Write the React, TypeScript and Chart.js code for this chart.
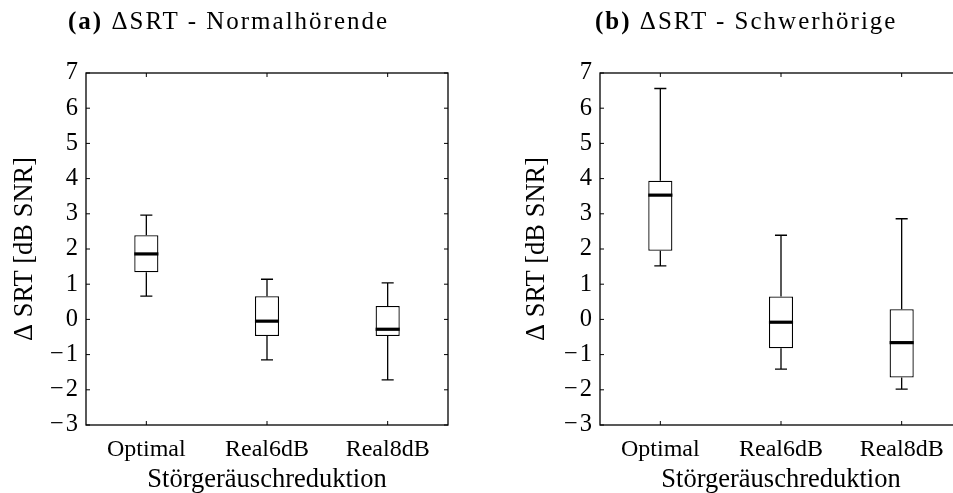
import React, { useEffect, useRef } from "react";
import { Chart, registerables } from "chart.js";

Chart.register(...registerables);

const categories = ["Optimal", "Real6dB", "Real8dB"];
const yTickValues = [-3, -2, -1, 0, 1, 2, 3, 4, 5, 6, 7];
const xAxisTitle = "Störgeräuschreduktion";
const yAxisTitle = "Δ SRT [dB SNR]";

// (a) Normalhörende
const nhWhiskerLow = [0.66, -1.15, -1.72];
const nhQ1 = [1.34, -0.47, -0.47];
const nhMedian = [1.86, -0.05, -0.28];
const nhQ3 = [2.39, 0.66, 0.38];
const nhWhiskerHigh = [2.96, 1.14, 1.04];

// (b) Schwerhörige
const shWhiskerLow = [1.52, -1.41, -1.98];
const shQ1 = [1.95, -0.82, -1.65];
const shMedian = [3.53, -0.08, -0.66];
const shQ3 = [3.94, 0.65, 0.29];
const shWhiskerHigh = [6.56, 2.39, 2.86];

const FONT = "'Liberation Serif', 'Times New Roman', serif";

type Stats = { low: number[]; q1: number[]; med: number[]; q3: number[]; high: number[] };

function makeBoxPlugin(stats: Stats) {
  return {
    id: "boxExtras",
    afterDatasetsDraw(chart: any) {
      const { ctx } = chart;
      const x = chart.scales.x;
      const y = chart.scales.y;
      const meta = chart.getDatasetMeta(0);
      ctx.save();
      ctx.strokeStyle = "#000";
      categories.forEach((_, i) => {
        const cx = x.getPixelForValue(i);
        const bw = meta.data[i] ? meta.data[i].width : 24;
        const half = bw / 2;
        const cap = bw / 4;
        const yLow = y.getPixelForValue(stats.low[i]);
        const yQ1 = y.getPixelForValue(stats.q1[i]);
        const yQ3 = y.getPixelForValue(stats.q3[i]);
        const yHigh = y.getPixelForValue(stats.high[i]);
        const yMed = y.getPixelForValue(stats.med[i]);
        ctx.lineWidth = 1.3;
        ctx.beginPath();
        ctx.moveTo(cx, yQ3);
        ctx.lineTo(cx, yHigh);
        ctx.moveTo(cx - cap, yHigh);
        ctx.lineTo(cx + cap, yHigh);
        ctx.moveTo(cx, yQ1);
        ctx.lineTo(cx, yLow);
        ctx.moveTo(cx - cap, yLow);
        ctx.lineTo(cx + cap, yLow);
        ctx.stroke();
        ctx.lineWidth = 3.2;
        ctx.beginPath();
        ctx.moveTo(cx - half, yMed);
        ctx.lineTo(cx + half, yMed);
        ctx.stroke();
      });
      ctx.restore();
    },
    afterDraw(chart: any) {
      const { ctx, chartArea } = chart;
      const x = chart.scales.x;
      const y = chart.scales.y;
      const { left, right, top, bottom } = chartArea;
      const tl = 4;
      ctx.save();
      ctx.strokeStyle = "#000";
      ctx.lineWidth = 1.3;
      ctx.strokeRect(left, top, right - left, bottom - top);
      ctx.lineWidth = 1;
      ctx.beginPath();
      yTickValues.forEach((v) => {
        const py = y.getPixelForValue(v);
        ctx.moveTo(left, py);
        ctx.lineTo(left + tl, py);
        ctx.moveTo(right, py);
        ctx.lineTo(right - tl, py);
      });
      categories.forEach((_, i) => {
        const px = x.getPixelForValue(i);
        ctx.moveTo(px, bottom);
        ctx.lineTo(px, bottom - tl);
        ctx.moveTo(px, top);
        ctx.lineTo(px, top + tl);
      });
      ctx.stroke();
      ctx.restore();
    },
  };
}

function BoxChart(props: { stats: Stats; left: number; width: number; yAxisWidth: number; yTitlePad: number }) {
  const ref = useRef<HTMLCanvasElement>(null);
  const { stats, left, width, yAxisWidth, yTitlePad } = props;
  useEffect(() => {
    if (!ref.current) return;
    const chart = new Chart(ref.current, {
      type: "bar",
      data: {
        labels: categories,
        datasets: [
          {
            data: categories.map((_, i) => [stats.q1[i], stats.q3[i]]) as any,
            backgroundColor: "#ffffff",
            borderColor: "#000000",
            borderWidth: 1.3,
            borderSkipped: false,
            barPercentage: 0.2,
            categoryPercentage: 1,
          },
        ],
      },
      options: {
        animation: false,
        responsive: false,
        devicePixelRatio: 1,
        layout: { padding: { top: 73, right: 28, left: 0, bottom: 0 } },
        plugins: {
          legend: { display: false },
          tooltip: { enabled: false },
          title: { display: false },
        },
        scales: {
          x: {
            type: "category",
            grid: { display: false, drawTicks: false },
            border: { display: false },
            ticks: {
              color: "#000",
              font: { family: FONT, size: 24 },
              padding: 10,
              maxRotation: 0,
              autoSkip: false,
            },
            title: {
              display: true,
              text: xAxisTitle,
              color: "#000",
              font: { family: FONT, size: 26.5, lineHeight: 1 },
              padding: { top: 0, bottom: 0 },
            },
            afterFit: (s: any) => {
              s.height = 68;
            },
          },
          y: {
            type: "linear",
            min: -3,
            max: 7,
            grid: { display: false, drawTicks: false },
            border: { display: false },
            afterBuildTicks: (s: any) => {
              s.ticks = yTickValues.map((v) => ({ value: v }));
            },
            ticks: {
              color: "#000",
              font: { family: FONT, size: 24.5 },
              padding: 8,
              callback: (v: any) =>
                Number(v) < 0 ? "\u2212\u200A" + Math.abs(Number(v)) : String(v),
            },
            title: {
              display: true,
              text: yAxisTitle,
              color: "#000",
              font: { family: FONT, size: 26.5, lineHeight: 1 },
              padding: { top: yTitlePad, bottom: 0 },
            },
            afterFit: (s: any) => {
              s.width = yAxisWidth;
            },
          },
        },
      } as any,
      plugins: [makeBoxPlugin(stats)],
    });
    return () => chart.destroy();
  }, []);
  return (
    <canvas
      ref={ref}
      width={width}
      height={493}
      style={{ position: "absolute", left, top: 0, width, height: 493 }}
    />
  );
}

const titleStyle: React.CSSProperties = {
  position: "absolute",
  top: 8,
  fontFamily: FONT,
  fontSize: 25,
  lineHeight: "25px",
  letterSpacing: "2px",
  whiteSpace: "nowrap",
  color: "#000",
};

export default function App() {
  return (
    <div
      style={{
        position: "absolute",
        left: 0,
        top: 0,
        width: 953,
        height: 493,
        overflow: "hidden",
        background: "#fff",
      }}
    >
      <BoxChart
        stats={{ low: nhWhiskerLow, q1: nhQ1, med: nhMedian, q3: nhQ3, high: nhWhiskerHigh }}
        left={0}
        width={476}
        yAxisWidth={86}
        yTitlePad={12}
      />
      <BoxChart
        stats={{ low: shWhiskerLow, q1: shQ1, med: shMedian, q3: shQ3, high: shWhiskerHigh }}
        left={476}
        width={514}
        yAxisWidth={124}
        yTitlePad={48}
      />
      <div style={{ ...titleStyle, left: 68 }}>
        <b>(a)</b> ΔSRT - Normalhörende
      </div>
      <div style={{ ...titleStyle, left: 595 }}>
        <b>(b)</b> ΔSRT - Schwerhörige
      </div>
    </div>
  );
}
